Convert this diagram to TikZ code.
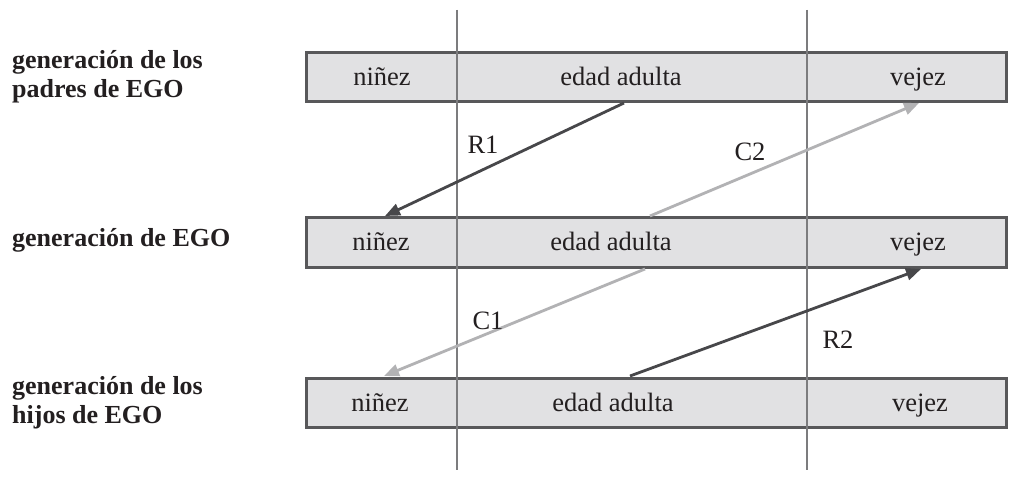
\documentclass[tikz,border=0pt]{standalone}
\usepackage{fontspec}
\setmainfont{Liberation Serif}
\usetikzlibrary{arrows.meta}
\definecolor{boxfill}{HTML}{E1E1E3}
\definecolor{boxline}{HTML}{58585A}
\definecolor{gridline}{HTML}{7C7C7E}
\definecolor{darkarrow}{HTML}{47474A}
\definecolor{lightarrow}{HTML}{B2B2B4}
\definecolor{ink}{HTML}{231F20}
\begin{document}
\begin{tikzpicture}[x=1pt,y=-1pt,
  genbox/.style={draw=boxline, line width=3pt, fill=boxfill,
    minimum width=700pt, minimum height=49pt, inner sep=0pt},
  stage/.style={anchor=base, text=ink, inner sep=0pt,
    font=\fontsize{26.5}{30}\selectfont},
  genlabel/.style={anchor=base west, align=left, text=ink, inner sep=0pt,
    font=\fontsize{26}{29}\selectfont\bfseries},
  divider/.style={draw=gridline, line width=1.4pt},
  flowdark/.style={draw=darkarrow, line width=2.8pt,
    -{Triangle[length=15pt,width=12pt]}},
  flowlight/.style={draw=lightarrow, line width=2.8pt,
    -{Triangle[length=15pt,width=12pt]}},
  flowtag/.style={text=ink, inner sep=0pt, font=\fontsize{26.5}{30}\selectfont}]
\useasboundingbox[fill=white] (0,0) rectangle (1016,486);

% generation labels (base anchor sits on the last line)
\node[genlabel] (lparents) at (12,98) {generación de los\\padres de EGO};
\node[genlabel] (lego) at (12,247) {generación de EGO};
\node[genlabel] (lchildren) at (12,423) {generación de los\\hijos de EGO};

% life-course bars
\node[genbox] (parents) at (656,77) {};
\node[genbox] (ego) at (656,242.5) {};
\node[genbox] (children) at (656,402.5) {};

% stage names
\node[stage] (p1) at (382,86) {niñez};
\node[stage] (p2) at (621,86) {edad adulta};
\node[stage] (p3) at (918,86) {vejez};
\node[stage] (e1) at (381,251) {niñez};
\node[stage] (e2) at (611,251) {edad adulta};
\node[stage] (e3) at (918,251) {vejez};
\node[stage] (c1) at (380,411) {niñez};
\node[stage] (c2) at (613,411) {edad adulta};
\node[stage] (c3) at (920,411) {vejez};

% stage boundaries
\coordinate (d1top) at (457,10);
\coordinate (d1bot) at (457,470);
\coordinate (d2top) at (807,10);
\coordinate (d2bot) at (807,470);
\draw[divider] (d1top) -- (d1bot);
\draw[divider] (d2top) -- (d2bot);

% transfer endpoints on the bars
\coordinate (r1s) at (624,103);
\coordinate (r1e) at (385,216);
\coordinate (c2s) at (650,216);
\coordinate (c2e) at (919,103);
\coordinate (c1s) at (645,269);
\coordinate (c1e) at (384,376);
\coordinate (r2s) at (630,376);
\coordinate (r2e) at (921,269);

% transfers between generations
\draw[flowdark] (r1s) -- (r1e);
\draw[flowlight] (c2s) -- (c2e);
\draw[flowlight] (c1s) -- (c1e);
\draw[flowdark] (r2s) -- (r2e);

\node[flowtag] (tr1) at (483,145) {R1};
\node[flowtag] (tc2) at (750,152) {C2};
\node[flowtag] (tc1) at (488,321) {C1};
\node[flowtag] (tr2) at (838,340) {R2};
\end{tikzpicture}
\end{document}
